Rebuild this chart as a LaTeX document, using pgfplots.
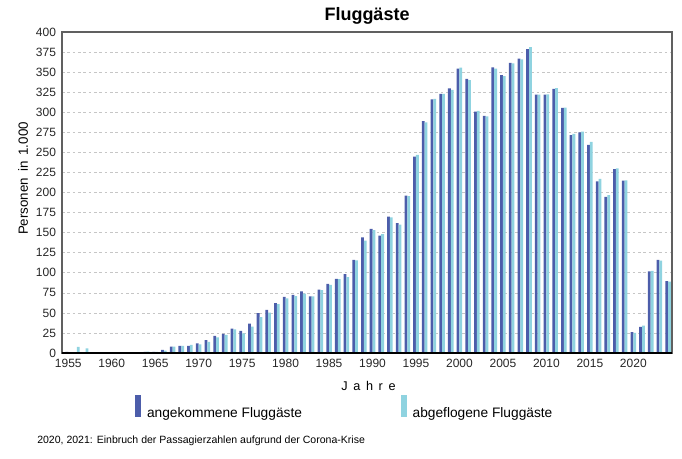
\documentclass[border=0pt]{standalone}
\usepackage{fontspec}
\setmainfont{Liberation Sans}
\usepackage{pgfplots}
\usepackage{pgfplotstable}
\pgfplotsset{compat=1.18}

\definecolor{ankblau}{HTML}{4C5DAA}
\definecolor{abghell}{HTML}{8FD3E0}

% Jahr, angekommen, abgeflogen (Personen in 1.000)
\pgfplotstableread{
year ank abg
1955 1.5 1.0
1956 0.5 7.5
1957 0.5 5.8
1958 0.5 0.5
1959 0.5 0.5
1960 0.5 0.5
1961 0.5 0.5
1962 0.5 0.5
1963 0.5 0.5
1964 1.5 1.7
1965 1.5 1.5
1966 4.0 3.0
1967 8.0 8.0
1968 9.0 9.0
1969 9.0 10.0
1970 12.0 10.8
1971 16.0 13.8
1972 21.5 19.6
1973 23.8 22.5
1974 30.4 29.6
1975 27.5 24.6
1976 36.7 33.0
1977 49.7 44.6
1978 53.7 50.4
1979 62.0 61.0
1980 70.0 68.0
1981 72.5 71.0
1982 76.7 74.0
1983 70.5 70.5
1984 79.0 78.5
1985 86.0 85.0
1986 92.5 92.0
1987 98.3 94.5
1988 116.0 115.5
1989 144.0 140.0
1990 154.7 153.0
1991 146.4 148.0
1992 170.0 169.0
1993 161.8 160.0
1994 196.0 195.5
1995 244.8 247.0
1996 288.8 287.5
1997 316.0 316.6
1998 322.8 323.0
1999 329.8 327.8
2000 354.3 355.5
2001 341.5 340.0
2002 300.8 301.6
2003 295.4 295.0
2004 356.0 354.3
2005 346.4 345.0
2006 361.4 361.0
2007 366.8 366.0
2008 378.8 381.3
2009 322.0 322.0
2010 322.0 322.4
2011 329.0 330.0
2012 305.4 305.8
2013 271.4 273.0
2014 275.0 276.0
2015 259.3 263.0
2016 214.0 217.0
2017 194.6 196.7
2018 229.0 230.0
2019 214.9 215.0
2020 26.0 25.0
2021 32.7 34.0
2022 101.6 102.4
2023 116.0 115.0
2024 89.6 89.0
}\fluggaeste

\newcommand{\lsp}{\hspace{4.2pt}}

\begin{document}
\begin{tikzpicture}
\useasboundingbox (-46.5pt,-78.75pt) rectangle (465pt,264.75pt);
\begin{axis}[
    at={(0,0)}, anchor=south west,
    width=457.5pt, height=240.75pt,
    scale only axis,
    clip=false,
    ybar,
    bar width=0.32,
    xmin=1954.28, xmax=2024.45,
    ymin=0, ymax=400,
    xtick={1955,1960,...,2020},
    ytick={0,25,...,400},
    major tick length=0pt,
    /pgf/number format/set thousands separator={},
    /pgf/number format/assume math mode=true,
    tick label style={font=\fontsize{9}{10}\selectfont, text=black!85},
    yticklabel style={xshift=-1pt},
    xticklabel style={yshift=-1pt},
    ymajorgrids,
    major grid style={gray!45, dash pattern=on 2pt off 2pt, line width=0.4pt},
    axis line style={draw=gray!75!black, line width=0.8pt},
    every axis title shift=0pt,
    title={\textbf{Fluggäste}},
    title style={font=\fontsize{13.5}{15}\selectfont, at={(axis description cs:0.5,1.05)}, anchor=center},
    xlabel={J\lsp a\lsp h\lsp r\lsp e},
    xlabel style={font=\fontsize{9.5}{11}\selectfont, at={(axis description cs:0.5025,-0.102)}, anchor=center},
    ylabel={Personen\hspace{0.45em}in\hspace{0.45em}1.000},
    ylabel style={font=\fontsize{10}{12}\selectfont, at={(axis description cs:-0.0639,0.5435)}, anchor=center},
    legend columns=2,
    legend style={draw=none, fill=none, inner sep=0pt, outer sep=0pt,
        at={(axis description cs:0.1197,-0.131)}, anchor=north west,
        font=\fontsize{10.3}{12}\selectfont,
        /tikz/every odd column/.append style={column sep=2.5pt},
        /tikz/every even column/.append style={column sep=72pt}},
    legend image code/.code={\fill (0pt,-3pt) rectangle (4.5pt,13.5pt);},
]
\addplot[fill=ankblau, draw=none, bar shift=-0.16] table[x=year, y=ank] {\fluggaeste};
\addplot[fill=abghell, draw=none, bar shift=0.16] table[x=year, y=abg] {\fluggaeste};
\legend{angekommene Fluggäste, abgeflogene Fluggäste}
\draw[black, line width=1.1pt] (rel axis cs:0,0) -- (rel axis cs:1,0);
\node[anchor=west, inner sep=0pt, font=\fontsize{7.9}{9}\selectfont] at (axis description cs:-0.041,-0.274)
    {2020, 2021: Einbruch der Passagierzahlen aufgrund der Corona-Krise};
\end{axis}
\end{tikzpicture}
\end{document}
